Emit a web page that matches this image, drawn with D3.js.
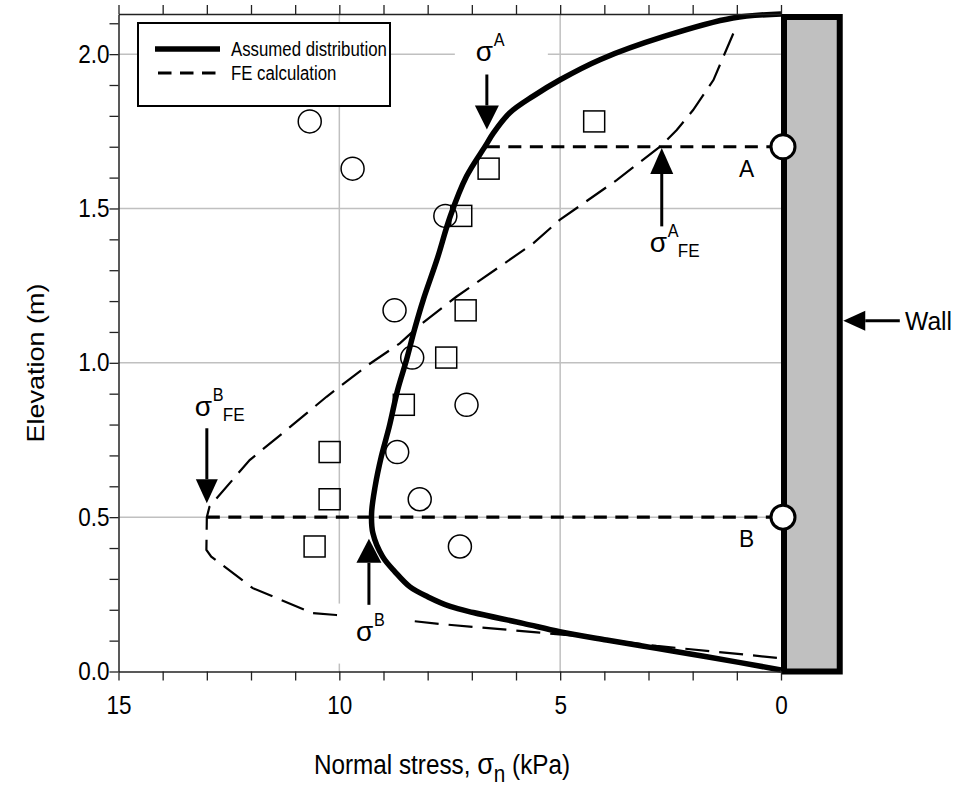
<!DOCTYPE html>
<html>
<head>
<meta charset="utf-8">
<script src="https://cdn.jsdelivr.net/npm/d3@7"></script>
<style>
body { margin: 0; background: #fff; }
text { font-family: "Liberation Sans", Arial, sans-serif; fill: #000; }
</style>
</head>
<body>
<script>
// measured points (elevation levels shared by both gauges)
var elevLevels   = [1.782, 1.629, 1.476, 1.17, 1.017, 0.864, 0.711, 0.558, 0.405];
var circleStress = [10.67, 9.70, 7.60, 8.75, 8.35, 7.12, 8.69, 8.18, 7.27];
var squareStress = [4.23, 6.62, 7.24, 7.14, 7.58, 8.54, 10.22, 10.22, 10.56];

// assumed distribution (thick solid)
var assumedStress = [0, 1.09, 2.63, 4.10, 5.00, 5.61, 6.14, 6.51, 6.70, 7.12, 7.49, 7.79, 8.10, 8.30,
                     8.48, 8.68, 8.87, 9.05, 9.19, 9.27, 9.24, 9.02, 8.74, 8.40, 7.99, 7.49, 6.97,
                     5.84, 5.01, 3.95, 2.82, 1.68, 0];
var assumedElev   = [2.13, 2.117, 2.058, 1.982, 1.917, 1.864, 1.810, 1.745, 1.701, 1.604, 1.474, 1.334, 1.204, 1.107,
                     1.009, 0.912, 0.793, 0.696, 0.599, 0.512, 0.448, 0.372, 0.323, 0.274, 0.2415, 0.2107, 0.191,
                     0.156, 0.129, 0.102, 0.075, 0.048, 0.005];

// FE calculation (thin long dashes)
var feStress = [1.08, 1.53, 1.99, 2.36, 2.74, 3.72, 5.01, 5.61, 7.35, 8.17, 8.63, 9.35, 10.29, 11.20,
                12.03, 12.94, 13.0, 13.01, 12.90, 11.96, 10.60, 10.07, 8.43, 7.73, 5.46, 4.63, 2.82, 0];
var feElev   = [2.067, 1.916, 1.819, 1.754, 1.700, 1.592, 1.463, 1.387, 1.214, 1.123, 1.063, 0.993, 0.890, 0.782,
                0.685, 0.534, 0.5, 0.394, 0.372, 0.270, 0.189, 0.183, 0.165, 0.154, 0.126, 0.115, 0.083, 0.043];

// gauges A and B on the wall
var gaugeNames = ["A", "B"];
var gaugeElev = [1.7, 0.5];
var gaugeStartStress = [6.66, 13.0];

var xTicks = d3.range(0, 16, 1);
var xLabels = [15, 10, 5, 0];
var yTicks = d3.range(0, 2.11, 0.1);
var yLabels = [0, 0.5, 1.0, 1.5, 2.0];
var wallStress = [0, -1.33];

var w = 959, h = 786;
var SX = 0.9; // glyphs look a bit narrow in the original

var svg = d3.select("body").append("svg")
  .attr("width", w)
  .attr("height", h);

var x = d3.scaleLinear().domain([15, 0]).range([118.5, 781]);
var y = d3.scaleLinear().domain([0, 2.13]).range([671.5, 14]);

function label(px, py, str, size, sx, anchor) {
  return svg.append("text")
    .attr("transform", "translate(" + px + "," + py + ") scale(" + (sx || SX) + ",1)")
    .attr("font-size", size)
    .attr("text-anchor", anchor || "start")
    .text(str);
}

function arrow(x1, y1, x2, y2, headLen, headW) {
  // shaft from (x1,y1) to tip (x2,y2)
  var dx = x2 - x1, dy = y2 - y1, len = Math.sqrt(dx * dx + dy * dy);
  var ux = dx / len, uy = dy / len;
  var bx = x2 - ux * headLen, by = y2 - uy * headLen;
  svg.append("line")
    .attr("x1", x1).attr("y1", y1).attr("x2", bx).attr("y2", by)
    .attr("stroke", "#000").attr("stroke-width", 3);
  svg.append("path")
    .attr("d", "M" + x2 + "," + y2 +
      "L" + (bx - uy * headW / 2) + "," + (by + ux * headW / 2) +
      "L" + (bx + uy * headW / 2) + "," + (by - ux * headW / 2) + "Z")
    .attr("fill", "#000");
}

// grid
svg.selectAll("line.gx")
  .data([10, 5])
  .enter().append("line")
  .attr("x1", function(d) { return x(d); })
  .attr("x2", function(d) { return x(d); })
  .attr("y1", y(2.13)).attr("y2", y(0))
  .attr("stroke", "#c0c0c0").attr("stroke-width", 1.5);
svg.selectAll("line.gy")
  .data([0.5, 1.0, 1.5, 2.0])
  .enter().append("line")
  .attr("x1", x(15)).attr("x2", x(0))
  .attr("y1", function(d) { return y(d); })
  .attr("y2", function(d) { return y(d); })
  .attr("stroke", "#c0c0c0").attr("stroke-width", 1.5);

// FE calculation line
var line = d3.line()
  .x(function(d) { return x(d[0]); })
  .y(function(d) { return y(d[1]); });

svg.append("path")
  .datum(d3.zip(feStress, feElev))
  .attr("d", line)
  .attr("fill", "none")
  .attr("stroke", "#000")
  .attr("stroke-width", 2.2)
  .attr("stroke-dasharray", "24,10");

// opaque label boxes (they hide grid / FE line behind the sigma labels)
svg.append("rect")
  .attr("x", x(6.66) - 32).attr("y", 38).attr("width", 93).attr("height", 32)
  .attr("fill", "#fff");
svg.append("rect")
  .attr("x", x(9.33) - 31).attr("y", y(0.22)).attr("width", 70).attr("height", 60)
  .attr("fill", "#fff");

// assumed distribution
svg.append("path")
  .datum(d3.zip(assumedStress, assumedElev))
  .attr("d", d3.line()
    .x(function(d) { return x(d[0]); })
    .y(function(d) { return y(d[1]); })
    .curve(d3.curveCatmullRom))
  .attr("fill", "none")
  .attr("stroke", "#000")
  .attr("stroke-width", 5.5);

// dashed horizontals to gauges
svg.selectAll("line.gauge")
  .data(gaugeElev)
  .enter().append("line")
  .attr("x1", function(d, i) { return x(gaugeStartStress[i]); })
  .attr("x2", x(0))
  .attr("y1", function(d) { return y(d); })
  .attr("y2", function(d) { return y(d); })
  .attr("stroke", "#000")
  .attr("stroke-width", 3.2)
  .attr("stroke-dasharray", "13,8.5");

// measured points
svg.selectAll("circle.pt")
  .data(d3.zip(circleStress, elevLevels))
  .enter().append("circle")
  .attr("cx", function(d) { return x(d[0]); })
  .attr("cy", function(d) { return y(d[1]); })
  .attr("r", 11.5)
  .attr("fill", "none")
  .attr("stroke", "#000")
  .attr("stroke-width", 1.5);
svg.selectAll("rect.pt")
  .data(d3.zip(squareStress, elevLevels))
  .enter().append("rect")
  .attr("x", function(d) { return x(d[0]) - 10.5; })
  .attr("y", function(d) { return y(d[1]) - 10.5; })
  .attr("width", 21)
  .attr("height", 21)
  .attr("fill", "none")
  .attr("stroke", "#000")
  .attr("stroke-width", 1.5);

// wall
svg.append("rect")
  .attr("x", x(wallStress[0]) + 3)
  .attr("y", y(2.13) + 3)
  .attr("width", x(wallStress[1]) - x(wallStress[0]) - 3)
  .attr("height", y(0) - y(2.13) - 3)
  .attr("fill", "#c0c0c0")
  .attr("stroke", "#000")
  .attr("stroke-width", 6);

// gauges
svg.selectAll("circle.gauge")
  .data(gaugeElev)
  .enter().append("circle")
  .attr("cx", x(0) + 2)
  .attr("cy", function(d) { return y(d); })
  .attr("r", 12)
  .attr("fill", "#fff")
  .attr("stroke", "#000")
  .attr("stroke-width", 3);
gaugeNames.forEach(function(n, i) {
  label(x(0) - 42, y(gaugeElev[i]) + 30, n, 24, 0.95);
});

// axes
var axisB = svg.append("g")
  .attr("transform", "translate(0," + y(0) + ")")
  .call(d3.axisBottom(x).tickValues(xTicks).tickSize(9).tickSizeOuter(0).tickPadding(16)
    .tickFormat(function(d) { return xLabels.indexOf(d) >= 0 ? d : ""; }));
var axisT = svg.append("g")
  .attr("transform", "translate(0," + y(2.13) + ")")
  .call(d3.axisTop(x).tickValues(xTicks).tickSize(9).tickSizeOuter(0).tickFormat(""));
var axisL = svg.append("g")
  .attr("transform", "translate(" + x(15) + ",0)")
  .call(d3.axisLeft(y).tickValues(yTicks).tickSize(9).tickSizeOuter(0)
    .tickFormat(function(d) {
      var r = Math.round(d * 10) / 10;
      return yLabels.indexOf(r) >= 0 ? d3.format(".1f")(r) : "";
    }));

[axisB, axisT, axisL].forEach(function(a) {
  a.select(".domain").attr("stroke", "#222").attr("stroke-width", 1.5);
  a.selectAll(".tick line").attr("stroke", "#222").attr("stroke-width", 1.3);
  a.selectAll(".tick text")
    .attr("font-size", 25)
    .attr("font-family", "Liberation Sans, Arial, sans-serif")
    .attr("fill", "#000");
});
axisB.selectAll(".tick text").attr("transform", "scale(" + SX + ",1)");
axisL.selectAll(".tick text").attr("transform", "scale(" + SX + ",1)")
  .attr("x", -9 / SX);

// axis titles
svg.append("text")
  .attr("transform", "translate(44,363) scale(" + SX + ",1) rotate(-90)")
  .attr("text-anchor", "middle")
  .attr("font-size", 27)
  .text("Elevation (m)");

var xt = svg.append("text")
  .attr("transform", "translate(442,774) scale(" + SX + ",1)")
  .attr("text-anchor", "middle")
  .attr("font-size", 27);
xt.append("tspan").text("Normal stress, ");
xt.append("tspan").attr("font-size", 30).text("\u03c3");
xt.append("tspan").attr("font-size", 23).attr("dy", 8).text("n");
xt.append("tspan").attr("dy", -8).text(" (kPa)");

// annotations: arrows
arrow(x(6.66), y(1.934), x(6.66), y(1.756), 24, 24);
arrow(x(2.70), y(1.442), x(2.70), y(1.696), 26, 23);
arrow(x(13.0), y(0.788), x(13.0), y(0.545), 24, 22);
arrow(x(9.33), y(0.216), x(9.33), y(0.43), 24, 25);
arrow(x(-2.69), y(1.136), x(-1.41), y(1.136), 22, 20);

// sigma labels
function sigma(px, py, sup, sub) {
  label(px, py, "\u03c3", 28, 1);
  label(px + 18, py - 15, sup, 18);
  if (sub) label(px + 28, py + 5, sub, 19);
}
sigma(x(6.66) - 11, 61, "A");
sigma(x(2.70) - 12, 252, "A", "FE");
sigma(x(13.0) - 12, 416, "B", "FE");
sigma(x(9.33) - 13, 641, "B");

label(905, 330, "Wall", 26, 0.95);

// legend
var lg = svg.append("g");
lg.append("rect")
  .attr("x", 138).attr("y", 23).attr("width", 252).attr("height", 83)
  .attr("fill", "#fff").attr("stroke", "#000").attr("stroke-width", 2);
lg.append("line")
  .attr("x1", 155).attr("x2", 220).attr("y1", 49).attr("y2", 49)
  .attr("stroke", "#000").attr("stroke-width", 5.5);
lg.append("line")
  .attr("x1", 158).attr("x2", 216).attr("y1", 73).attr("y2", 73)
  .attr("stroke", "#000").attr("stroke-width", 3).attr("stroke-dasharray", "13.5,8.5");
svg.append("text")
  .attr("transform", "translate(231,56) scale(0.8,1)")
  .attr("font-size", 21)
  .text("Assumed distribution");
svg.append("text")
  .attr("transform", "translate(231,80) scale(0.8,1)")
  .attr("font-size", 21)
  .text("FE calculation");
</script>
</body>
</html>
